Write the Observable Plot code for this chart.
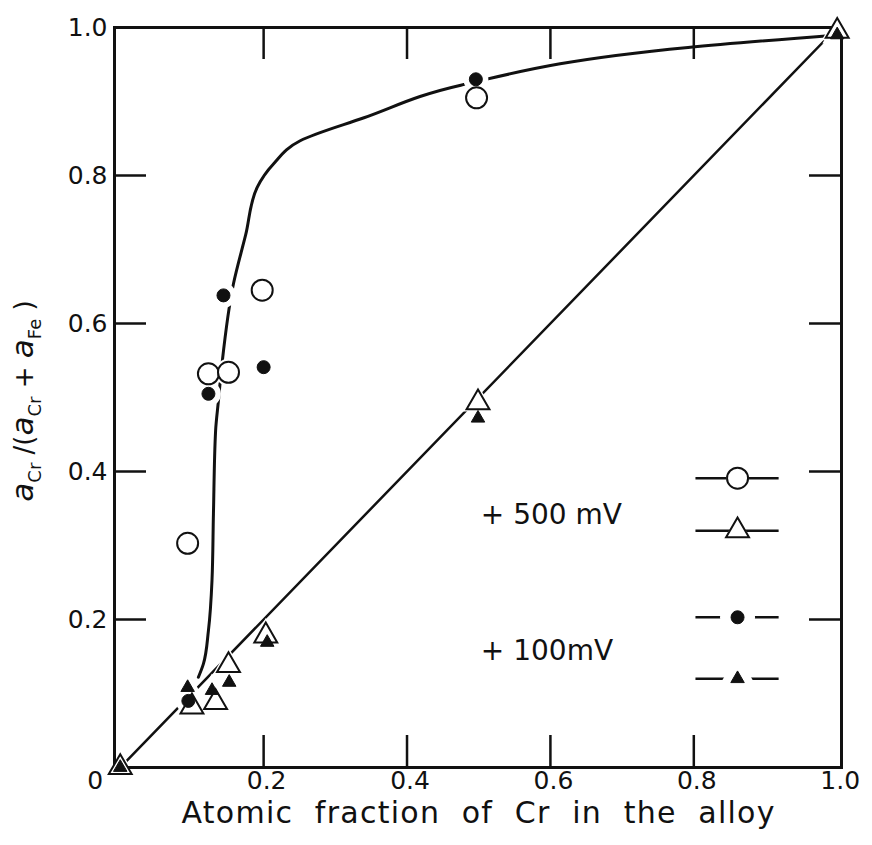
<!DOCTYPE html>
<html>
<head>
<meta charset="utf-8">
<script src="https://cdn.jsdelivr.net/npm/d3@7"></script>
<script src="https://cdn.jsdelivr.net/npm/@observablehq/plot@0.6"></script>
<style>
  html, body { margin: 0; padding: 0; background: #fff; }
  svg { display: block; }
</style>
</head>
<body>
<div id="chart"></div>
<script>
// Atomic fraction of Cr in the alloy (x) versus a_Cr / (a_Cr + a_Fe) (y)

// +500 mV, open circles
const cr500Circle = [0.094, 0.123, 0.151, 0.198, 0.497];
const ratio500Circle = [0.303, 0.532, 0.534, 0.645, 0.905];
// +500 mV, open triangles
const cr500Tri = [0.0, 0.100, 0.133, 0.151, 0.203, 0.499, 1.0];
const ratio500Tri = [0.0, 0.082, 0.088, 0.138, 0.178, 0.493, 0.995];
// +100 mV, filled circles
const cr100Circle = [0.095, 0.123, 0.144, 0.200, 0.496];
const ratio100Circle = [0.090, 0.505, 0.638, 0.541, 0.930];
// +100 mV, filled triangles
const cr100Tri = [0.0, 0.094, 0.128, 0.152, 0.205, 0.499, 1.0];
const ratio100Tri = [0.0, 0.108, 0.104, 0.115, 0.169, 0.472, 0.990];

// hand-drawn trend through the circles
const curveX = [0.109, 0.116, 0.123, 0.128, 0.130, 0.133, 0.137, 0.142, 0.158, 0.175, 0.191, 0.214, 0.251, 0.340, 0.475, 0.792, 1.0];
const curveY = [0.122, 0.140, 0.185, 0.253, 0.343, 0.455, 0.496, 0.546, 0.654, 0.720, 0.784, 0.816, 0.847, 0.878, 0.922, 0.973, 0.990];
// ideal line through the triangles
const diagX = [0, 1];
const diagY = [0, 1];

// axes
const xTickVals = [0.2, 0.4, 0.6, 0.8];
const yTickVals = [0.2, 0.4, 0.6, 0.8];
const xLabelVals = [0.2, 0.4, 0.6, 0.8, 1.0];
const xLabelText = ["0.2", "0.4", "0.6", "0.8", "1.0"];
const yLabelVals = [0.2, 0.4, 0.6, 0.8, 1.0];
const yLabelText = ["0.2", "0.4", "0.6", "0.8", "1.0"];
const originLabel = "0";
const xTitle = "Atomic  fraction  of  Cr  in  the  alloy";

// legend
const legendNames = ["+ 500 mV", "+ 100mV"];
const legendSymbols = ["circle", "triangle", "circle", "triangle"];
const legendFilled = [false, false, true, true];

// ---- layout ----
const W = 872, H = 845;
const mL = 114, mR = 31, mT = 27, mB = 78;
const plotW = W - mL - mR, plotH = H - mT - mB;
const tickLen = 32;
const ink = "#111";

const R_OPEN_CIRCLE = 10.5, R_FILL_CIRCLE = 6.5, R_OPEN_TRI = 8.5, R_FILL_TRI = 5;

function series(xs, ys, symbol, filled) {
  const r = symbol === "circle" ? (filled ? R_FILL_CIRCLE : R_OPEN_CIRCLE) : (filled ? R_FILL_TRI : R_OPEN_TRI);
  return xs.map((x, i) => ({x, y: ys[i], symbol, filled, r, halo: r + (filled ? 6 : 3)}));
}
const points = [
  ...series(cr500Tri, ratio500Tri, "triangle", false),
  ...series(cr500Circle, ratio500Circle, "circle", false),
  ...series(cr100Tri, ratio100Tri, "triangle", true),
  ...series(cr100Circle, ratio100Circle, "circle", true)
];

// legend placement (in axis units)
const legX = 0.861, legHalf = 0.058;
const legRowsY = [0.391, 0.320, 0.203, 0.120];
const legendRows = legendSymbols.map((s, i) => {
  const filled = legendFilled[i];
  const r = s === "circle" ? (filled ? R_FILL_CIRCLE : R_OPEN_CIRCLE) : (filled ? R_FILL_TRI : R_OPEN_TRI);
  return {x: legX, y: legRowsY[i], x1: legX - legHalf, x2: legX + legHalf, symbol: s, filled, r, halo: r + (filled ? 11 : 1)};
});
const legendText = [
  {x: 0.503, y: 0.341, text: legendNames[0]},
  {x: 0.503, y: 0.158, text: legendNames[1]}
];

const curve = curveX.map((x, i) => ({x, y: curveY[i]}));
const diag = diagX.map((x, i) => ({x, y: diagY[i]}));
const allDots = [...points, ...legendRows];

const chart = Plot.plot({
  width: W, height: H,
  marginLeft: mL, marginRight: mR, marginTop: mT, marginBottom: mB,
  x: {domain: [-0.008, 1.006], axis: null},
  y: {domain: [0, 1], axis: null},
  r: {type: "identity"},
  symbol: {type: "identity"},
  style: {fontFamily: "'DejaVu Sans', sans-serif", background: "#fff", color: ink},
  marks: [
    Plot.line(curve, {x: "x", y: "y", curve: "monotone-y", stroke: ink, strokeWidth: 3}),
    Plot.line(diag, {x: "x", y: "y", stroke: ink, strokeWidth: 2.5}),
    Plot.ruleY(legendRows, {y: "y", x1: "x1", x2: "x2", stroke: ink, strokeWidth: 2.5}),
    // white gaps where the lines meet the markers
    Plot.dot(allDots, {x: "x", y: "y", symbol: "symbol", r: "halo", fill: "#fff", stroke: null}),
    Plot.frame({stroke: ink, strokeWidth: 3}),
    // inward ticks on all four sides
    Plot.tickX(xTickVals, {x: d => d, insetTop: plotH - tickLen, stroke: ink, strokeWidth: 2.5}),
    Plot.tickX(xTickVals, {x: d => d, insetBottom: plotH - tickLen, stroke: ink, strokeWidth: 2.5}),
    Plot.tickY(yTickVals, {y: d => d, insetRight: plotW - tickLen, stroke: ink, strokeWidth: 2.5}),
    Plot.tickY(yTickVals, {y: d => d, insetLeft: plotW - tickLen, stroke: ink, strokeWidth: 2.5}),
    // markers
    Plot.dot(allDots, {
      x: "x", y: "y", symbol: "symbol", r: "r",
      fill: d => d.filled ? ink : "#fff",
      stroke: ink, strokeWidth: d => d.filled ? 1 : 2
    }),
    // tick labels
    Plot.text(xLabelVals, {x: d => d, text: (d, i) => xLabelText[i], frameAnchor: "bottom", dx: 3, dy: 21, fontSize: 25, fill: ink}),
    Plot.text(yLabelVals, {y: d => d, text: (d, i) => yLabelText[i], frameAnchor: "left", dx: -7, textAnchor: "end", fontSize: 25, fill: ink}),
    Plot.text([0], {x: d => d, text: () => originLabel, frameAnchor: "bottom", dx: -25, dy: 21, fontSize: 25, fill: ink}),
    // x title
    Plot.text([xTitle], {text: d => d, frameAnchor: "bottom", dy: 55, fontSize: 30, fill: ink}),
    // legend labels
    Plot.text(legendText, {x: "x", y: "y", text: "text", textAnchor: "start", fontSize: 28, fill: ink})
  ]
});

const svg = d3.select(chart);

// spread the x title across its full width
svg.selectAll("text").filter(function () { return this.textContent === xTitle; })
  .attr("textLength", 593)
  .attr("lengthAdjust", "spacing");

// y-axis title with subscripts
const yTitle = svg.append("text")
  .attr("transform", `translate(33,${mT + plotH / 2 + 4}) rotate(-90)`)
  .attr("text-anchor", "middle")
  .attr("font-family", "'DejaVu Sans', sans-serif")
  .attr("font-size", 31)
  .attr("fill", ink);
const parts = [
  {t: "a", italic: true}, {t: "Cr", sub: true},
  {t: " /(", small: true}, {t: "a", italic: true}, {t: "Cr", sub: true},
  {t: " + ", small: true}, {t: "a", italic: true}, {t: "Fe", sub: true}, {t: " )", small: true}
];
let shifted = false;
for (const p of parts) {
  const ts = yTitle.append("tspan").text(p.t);
  if (p.italic) ts.attr("font-style", "italic");
  if (p.small) ts.attr("font-size", 26);
  if (p.sub) { ts.attr("font-size", 18).attr("dy", 8); shifted = true; }
  else if (shifted) { ts.attr("dy", -8); shifted = false; }
}

document.getElementById("chart").appendChild(chart);
</script>
</body>
</html>
